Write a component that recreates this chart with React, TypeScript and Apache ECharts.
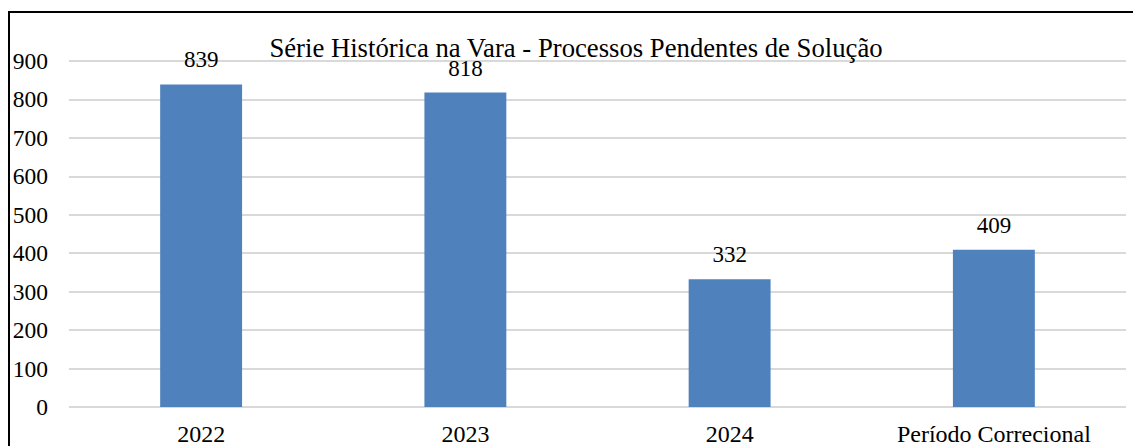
import React, { useEffect, useRef } from "react";
import * as echarts from "echarts";

const categories = ["2022", "2023", "2024", "Período Correcional"];
const values = [839, 818, 332, 409];
const titleText = "Série Histórica na Vara - Processos Pendentes de Solução";
const yMin = 0;
const yMax = 900;
const yInterval = 100;

const FONT = "Liberation Serif";

export default function App() {
  const ref = useRef<HTMLDivElement>(null);
  useEffect(() => {
    if (!ref.current) return;
    const chart = echarts.init(ref.current, null, { renderer: "svg" });
    chart.setOption({
      animation: false,
      backgroundColor: "#ffffff",
      textStyle: { fontFamily: FONT },
      title: {
        text: titleText,
        left: 576,
        top: 34,
        textAlign: "center",
        padding: 0,
        textStyle: { fontFamily: FONT, fontSize: 26.7, fontWeight: "normal", color: "#000" },
      },
      graphic: [
        {
          type: "rect",
          shape: { x: 9, y: 12, width: 1300, height: 600 },
          style: { fill: "none", stroke: "#000", lineWidth: 2 },
          silent: true,
          z: 100,
        },
      ],
      grid: { left: 69, right: 7, top: 61, bottom: 39, containLabel: false },
      xAxis: {
        type: "category",
        data: categories,
        axisLine: { show: false },
        axisTick: { show: false },
        axisLabel: { fontFamily: FONT, fontSize: 24, color: "#000", margin: 15, interval: 0 },
      },
      yAxis: {
        type: "value",
        min: yMin,
        max: yMax,
        interval: yInterval,
        axisLine: { show: false },
        axisTick: { show: false },
        axisLabel: { fontFamily: FONT, fontSize: 23.5, color: "#000", margin: 21 },
        splitLine: { show: true, lineStyle: { color: "#d9d9d9", width: 2 } },
      },
      series: [
        {
          type: "bar",
          data: values,
          barWidth: "31%",
          itemStyle: { color: "#4f81bd" },
          label: {
            show: true,
            position: "top",
            distance: 13,
            fontFamily: FONT,
            fontSize: 23,
            color: "#000",
          },
        },
      ],
    });
    return () => chart.dispose();
  }, []);
  return (
    <div
      ref={ref}
      style={{ position: "absolute", left: 0, top: 0, width: 1133, height: 446 }}
    />
  );
}
